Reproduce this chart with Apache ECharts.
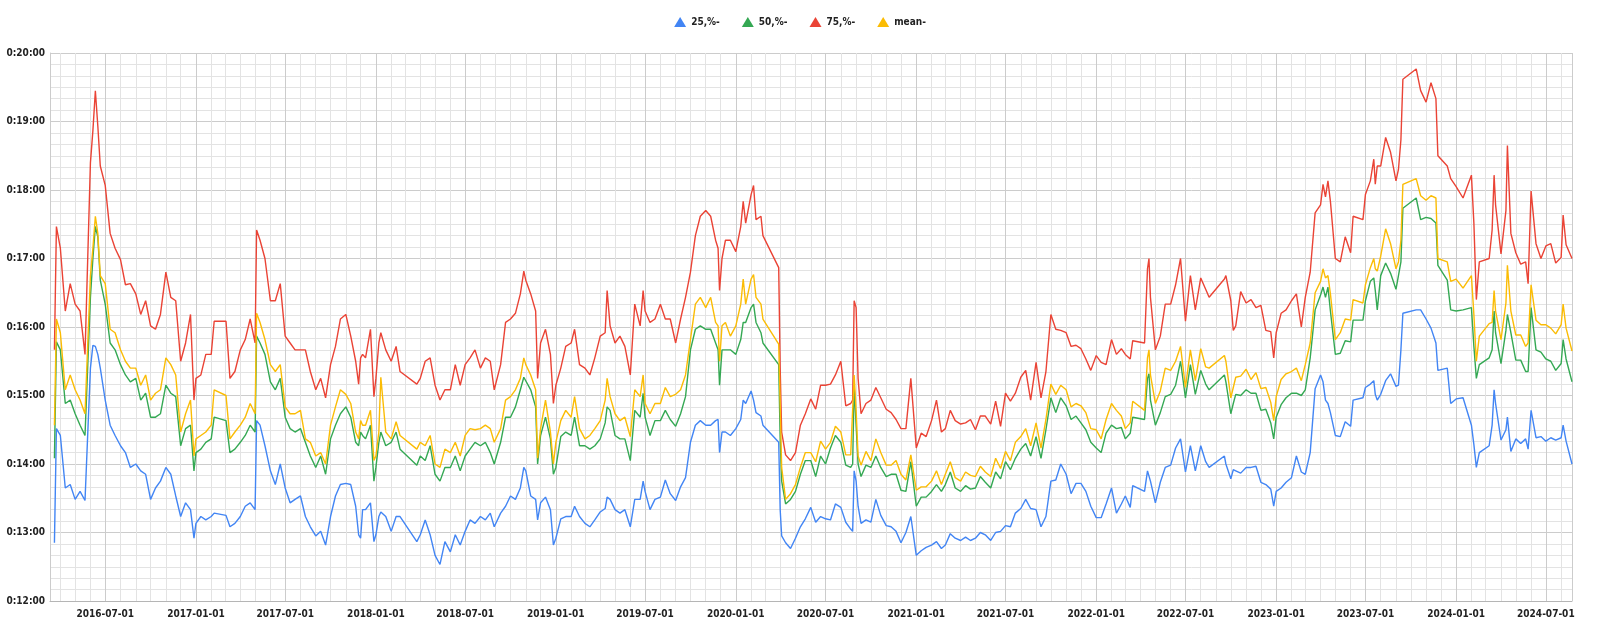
<!DOCTYPE html>
<html><head><meta charset="utf-8">
<script src="https://cdn.jsdelivr.net/npm/echarts@6/dist/echarts.min.js"></script>
<style>html,body{margin:0;padding:0;background:#fff}#c{width:1600px;height:635px}</style>
</head><body><div id="c"></div>
<script>
// ---- data (values in seconds) ----
const dates = [
'2016-03-20','2016-03-24','2016-04-01','2016-04-11','2016-04-21','2016-05-01','2016-05-11','2016-05-21','2016-06-01','2016-06-06','2016-06-11','2016-06-16','2016-06-21','2016-07-01','2016-07-11','2016-07-21','2016-08-01','2016-08-11','2016-08-21','2016-09-01','2016-09-11','2016-09-21','2016-10-01','2016-10-11','2016-10-21','2016-11-01','2016-11-11','2016-11-21','2016-12-01','2016-12-11','2016-12-21','2016-12-28','2017-01-01','2017-01-11','2017-01-21','2017-02-01','2017-02-07','2017-03-03','2017-03-11','2017-03-21','2017-04-01','2017-04-11','2017-04-21','2017-05-01','2017-05-04','2017-05-11','2017-05-21','2017-06-01','2017-06-11','2017-06-21','2017-07-01','2017-07-11','2017-07-21',
'2017-08-01','2017-08-11','2017-08-21','2017-09-01','2017-09-11','2017-09-21','2017-10-01','2017-10-11','2017-10-21','2017-11-01','2017-11-11','2017-11-21','2017-11-27','2017-12-01','2017-12-05','2017-12-11','2017-12-21','2017-12-28','2018-01-01','2018-01-07','2018-01-11','2018-01-21','2018-02-01','2018-02-11','2018-02-19','2018-03-25','2018-04-01','2018-04-11','2018-04-21','2018-05-01','2018-05-11','2018-05-21','2018-06-01','2018-06-11','2018-06-21','2018-07-01','2018-07-11','2018-07-21','2018-08-01','2018-08-11','2018-08-21','2018-08-29','2018-09-11','2018-09-21','2018-10-01','2018-10-11','2018-10-21','2018-10-28','2018-11-01','2018-11-11','2018-11-21','2018-11-25','2018-12-01','2018-12-11','2018-12-21','2018-12-27',
'2019-01-01','2019-01-11','2019-01-21','2019-02-01','2019-02-08','2019-02-18','2019-03-01','2019-03-11','2019-03-21','2019-04-01','2019-04-11','2019-04-15','2019-04-21','2019-05-01','2019-05-11','2019-05-21','2019-06-01','2019-06-10','2019-06-21','2019-06-27','2019-07-01','2019-07-11','2019-07-21','2019-08-01','2019-08-11','2019-08-21','2019-09-01','2019-09-11','2019-09-21','2019-10-01','2019-10-11','2019-10-21','2019-11-01','2019-11-11','2019-11-21','2019-11-26','2019-11-29','2019-12-04','2019-12-11','2019-12-21','2020-01-01','2020-01-11','2020-01-16','2020-01-21','2020-02-01','2020-02-06','2020-02-11','2020-02-21','2020-02-25','2020-03-28','2020-03-31','2020-04-03','2020-04-11','2020-04-21','2020-05-01','2020-05-11','2020-05-21',
'2020-06-01','2020-06-11','2020-06-21','2020-07-01','2020-07-11','2020-07-21','2020-08-01','2020-08-11','2020-08-21','2020-08-25','2020-08-28','2020-09-01','2020-09-05','2020-09-11','2020-09-21','2020-10-01','2020-10-11','2020-10-21','2020-11-01','2020-11-11','2020-11-21','2020-12-01','2020-12-11','2020-12-21','2021-01-01','2021-01-11','2021-01-21','2021-02-01','2021-02-11','2021-02-21','2021-03-01','2021-03-11','2021-03-21','2021-04-01','2021-04-11','2021-04-21','2021-05-01','2021-05-11','2021-05-21','2021-06-01','2021-06-11','2021-06-21','2021-07-01','2021-07-11','2021-07-21','2021-08-01','2021-08-11','2021-08-21','2021-09-01','2021-09-11','2021-09-21','2021-10-01','2021-10-11','2021-10-21','2021-11-01',
'2021-11-11','2021-11-21','2021-12-01','2021-12-11','2021-12-21','2022-01-01','2022-01-11','2022-01-21','2022-02-01','2022-02-11','2022-02-21','2022-03-01','2022-03-11','2022-03-16','2022-04-09','2022-04-15','2022-04-18','2022-04-21','2022-05-01','2022-05-11','2022-05-21','2022-06-01','2022-06-11','2022-06-21','2022-07-01','2022-07-11','2022-07-21','2022-08-01','2022-08-11','2022-08-18','2022-09-18','2022-09-21','2022-10-01','2022-10-06','2022-10-11','2022-10-21','2022-11-01','2022-11-11','2022-11-21','2022-12-01','2022-12-11','2022-12-21','2022-12-27','2023-01-01','2023-01-11','2023-01-21','2023-02-01','2023-02-11','2023-02-21','2023-03-01','2023-03-11','2023-03-21',
'2023-04-01','2023-04-06','2023-04-11','2023-04-16','2023-04-21','2023-05-01','2023-05-11','2023-05-21','2023-06-01','2023-06-06','2023-06-26','2023-07-01','2023-07-11','2023-07-18','2023-07-21','2023-07-25','2023-08-01','2023-08-11','2023-08-21','2023-09-01','2023-09-06','2023-09-11','2023-09-15','2023-10-12','2023-10-21','2023-11-01','2023-11-11','2023-11-21','2023-11-25','2023-12-14','2023-12-21','2024-01-01','2024-01-15','2024-02-01','2024-02-06','2024-02-11','2024-02-17','2024-03-08','2024-03-14','2024-03-18','2024-03-21','2024-04-01','2024-04-11','2024-04-14','2024-04-21','2024-05-01','2024-05-11','2024-05-21','2024-05-26','2024-06-01','2024-06-11','2024-06-21','2024-07-01','2024-07-11','2024-07-21','2024-08-01','2024-08-05','2024-08-11','2024-08-23'
];
const p75 = [
940,1048,1029,974,998,980,974,936,1104,1132,1167,1136,1101,1084,1042,1029,1019,997,998,989,971,983,961,958,971,1008,986,983,930,946,971,896,915,918,936,936,965,965,915,921,940,949,967,946,1045,1036,1020,983,983,998,952,946,940,
940,940,921,905,915,898,927,943,967,971,952,930,910,933,936,933,958,899,915,946,955,940,930,943,921,910,915,930,933,909,896,905,905,927,909,927,933,940,924,933,930,905,927,964,967,972,989,1009,1001,989,974,915,946,958,936,893,
909,924,943,946,958,927,924,918,933,952,955,992,961,946,952,943,918,980,961,992,974,964,967,980,967,967,946,967,986,1008,1040,1057,1062,1057,1036,1029,992,1020,1036,1036,1026,1048,1070,1051,1076,1084,1054,1057,1040,1012,924,868,848,843,850,874,884,
897,888,909,909,910,918,930,891,893,896,983,977,915,884,893,896,907,898,888,885,879,871,871,915,854,867,864,878,896,868,871,887,878,875,876,879,870,882,882,875,895,873,902,895,902,916,922,896,929,898,921,971,958,957,955,
943,944,941,932,922,935,929,927,949,936,941,936,932,948,946,1011,1020,986,940,952,980,980,997,1020,965,1005,975,1003,993,986,1002,1005,983,957,961,991,981,984,977,979,957,956,933,955,972,975,983,989,960,986,1008,1060,
1067,1085,1074,1088,1070,1020,1017,1039,1025,1057,1054,1076,1088,1107,1085,1101,1101,1126,1113,1088,1098,1124,1177,1186,1167,1157,1174,1160,1110,1101,1090,1083,1073,1093,1051,984,1017,1020,1045,1093,1067,1024,1062,1119,1042,1025,1015,1017,998,1079,1033,1020,1031,1033,1016,1021,1058,1032,1020
];
const mean = [
874,967,955,905,918,905,896,884,1005,1029,1057,1042,1005,998,958,955,940,930,924,924,909,918,896,902,905,933,927,918,868,884,896,847,862,865,868,874,905,900,862,868,874,881,893,884,972,964,949,927,921,927,890,884,884,
887,862,859,847,850,840,874,890,905,901,893,868,862,878,874,874,887,843,847,868,916,868,862,877,865,853,859,856,865,840,837,853,850,859,847,865,871,870,871,874,871,859,871,896,899,905,915,933,927,918,905,845,871,896,868,840,
859,878,887,881,899,871,862,865,871,878,896,915,899,884,878,881,864,905,899,918,893,884,893,893,907,899,901,905,918,949,980,986,977,986,964,961,930,961,964,952,961,980,1002,980,1002,1006,986,980,967,945,893,837,809,814,822,837,850,
850,842,860,853,859,873,868,848,848,847,918,887,847,839,851,843,862,850,839,839,843,831,826,848,817,820,820,825,834,822,831,842,828,825,833,830,829,838,833,829,845,836,851,843,859,864,871,856,876,854,879,910,901,909,905,
890,893,891,885,871,870,862,879,893,887,882,871,876,895,887,933,940,918,893,904,924,922,930,943,907,940,913,941,925,924,935,930,898,907,916,917,923,914,920,906,907,894,878,899,914,919,921,924,913,927,946,990,
1000,1011,1003,1005,989,949,955,967,966,984,981,997,1012,1020,1011,1009,1022,1046,1033,1011,1017,1036,1085,1090,1075,1071,1075,1073,1020,1017,1000,1002,994,1005,971,930,952,963,964,992,974,949,981,1014,974,953,953,943,946,997,966,962,962,959,954,962,980,959,939
];
const p50 = [
845,947,940,893,896,884,874,865,986,1020,1048,1039,1001,980,946,940,927,918,912,915,896,902,881,881,884,909,902,899,856,871,874,834,850,853,859,862,881,878,850,853,859,865,874,868,952,946,936,912,905,915,881,871,868,
871,859,847,837,847,831,862,874,884,890,881,859,856,868,865,862,874,825,837,859,868,856,859,868,853,839,847,843,856,831,825,837,837,847,834,847,853,859,856,859,850,840,859,881,881,890,905,916,915,905,890,840,865,881,862,831,
837,864,868,865,881,856,856,853,856,862,876,890,887,865,862,862,843,887,881,902,881,865,878,878,887,879,873,884,899,940,958,961,958,958,946,940,909,940,940,940,936,949,964,964,977,980,964,955,946,927,862,825,805,809,816,831,843,
843,829,847,840,854,865,859,839,837,840,909,874,840,829,839,837,847,837,829,831,831,817,816,842,803,811,811,816,822,816,822,833,819,816,821,818,819,829,824,819,833,827,842,835,845,853,858,847,864,845,870,898,885,898,891,
879,882,876,870,859,854,850,867,874,871,872,862,867,881,879,915,919,896,874,885,899,901,909,930,898,927,901,922,910,905,918,912,884,893,901,900,905,902,902,887,888,876,862,881,892,898,902,902,900,905,933,975,
988,995,986,995,974,936,937,948,947,966,966,983,1000,1003,992,975,1005,1016,1007,993,1005,1017,1064,1073,1054,1056,1055,1051,1014,1001,975,974,975,977,943,915,927,933,940,974,955,928,957,971,955,931,931,921,921,977,940,938,932,930,922,928,949,932,912
];
const p25 = [
771,871,865,819,822,809,816,808,924,944,943,936,924,896,874,865,856,850,837,840,834,831,809,819,825,837,831,812,794,806,800,775,788,794,791,794,797,795,785,788,794,803,806,800,878,874,856,834,822,840,819,806,809,
812,794,785,777,781,769,794,812,822,823,822,803,778,775,800,800,806,772,778,794,798,794,781,794,794,772,778,791,778,760,752,772,763,778,769,781,791,788,794,791,797,785,797,803,812,809,819,837,834,812,809,791,806,811,800,769,
775,792,794,794,803,794,788,785,791,798,801,811,809,800,797,800,785,809,809,825,816,800,809,811,826,814,808,820,828,859,874,878,874,874,878,879,850,868,868,865,871,879,896,893,904,896,885,882,874,859,800,777,771,766,775,785,792,
802,789,794,792,791,805,802,789,783,781,834,825,803,788,791,789,809,795,786,785,781,771,780,794,760,764,767,769,772,766,769,779,775,773,776,773,775,780,778,773,780,781,786,785,797,801,809,801,800,785,794,825,826,840,831,
814,823,823,816,803,793,793,805,819,797,805,812,802,821,816,834,834,825,806,824,837,839,854,862,833,856,834,856,842,837,847,840,827,835,834,832,837,837,838,824,822,818,803,816,819,824,828,847,833,831,850,906,
918,912,896,893,885,865,864,877,873,896,898,907,910,913,901,896,901,913,919,908,909,940,972,975,975,967,959,946,922,924,893,897,898,874,857,837,850,856,874,905,893,861,870,881,851,862,858,862,853,887,863,864,860,863,861,863,874,860,840
];
const seriesNames = ['25,%-','50,%-','75,%-','mean-'];
const seriesColors = ['#4285F4','#34A853','#EA4335','#FBBC04'];
const xMin = '2016-03-11', xMax = '2024-08-23';
const yMin = 720, yMax = 1200, yStep = 60;

const DAY = 86400000;
const FONT = "'Liberation Sans Narrow','Arial Narrow','DejaVu Sans Condensed',sans-serif";
function pad(n){return String(n).padStart(2,'0');}
function fmtDate(v){const d=new Date(v);return d.getFullYear()+'-'+pad(d.getMonth()+1)+'-'+pad(d.getDate());}
function fmtSec(v){const m=Math.floor(v/60),s=Math.round(v-m*60);return '0:'+pad(m)+':'+pad(s);}

const vals = [p25,p50,p75,mean];
const chart = echarts.init(document.getElementById('c'), null, {renderer:'canvas'});
chart.setOption({
  animation:false,
  backgroundColor:'#fff',
  legend:{
    top:12, left:'center', icon:'triangle', itemWidth:12, itemHeight:10, itemGap:22,
    textStyle:{fontFamily:FONT,fontSize:10,fontWeight:'bold',color:'#222'},
    data:seriesNames
  },
  grid:{left:50,right:28,top:53,bottom:34,containLabel:false},
  xAxis:[{
    type:'time', min:xMin, max:xMax, z:3,
    minInterval:180*DAY, maxInterval:186*DAY,
    axisLine:{show:true,lineStyle:{color:'#b5b5b5',width:1}},
    axisTick:{show:false},
    splitLine:{show:true,lineStyle:{color:'#cccccc',width:1}},
    axisLabel:{formatter:fmtDate,fontFamily:FONT,fontSize:10,fontWeight:'bold',color:'#222',margin:8,hideOverlap:false,showMinLabel:false,showMaxLabel:false}
  },{
    type:'time', min:xMin, max:xMax, z:1, position:'bottom',
    minInterval:28*DAY, maxInterval:31*DAY,
    axisLine:{show:false}, axisTick:{show:false}, axisLabel:{show:false},
    splitLine:{show:true,lineStyle:{color:'#e3e3e3',width:1}}
  }],
  yAxis:{
    type:'value', min:yMin, max:yMax, interval:yStep,
    axisLine:{show:true,lineStyle:{color:'#cccccc'}},
    axisTick:{show:false},
    splitLine:{show:true,lineStyle:{color:'#cccccc',width:1}},
    minorTick:{show:false,splitNumber:6},
    minorSplitLine:{show:true,lineStyle:{color:'#e3e3e3',width:1}},
    axisLabel:{formatter:fmtSec,fontFamily:FONT,fontSize:10,fontWeight:'bold',color:'#222',margin:5}
  },
  series: seriesNames.map((n,i)=>({
    name:n, type:'line', xAxisIndex:0,
    showSymbol:false, symbol:'triangle', symbolSize:4,
    lineStyle:{width:1.4,color:seriesColors[i]},
    itemStyle:{color:seriesColors[i]},
    data: dates.map((d,j)=>[d, vals[i][j]])
  }))
});
</script></body></html>
